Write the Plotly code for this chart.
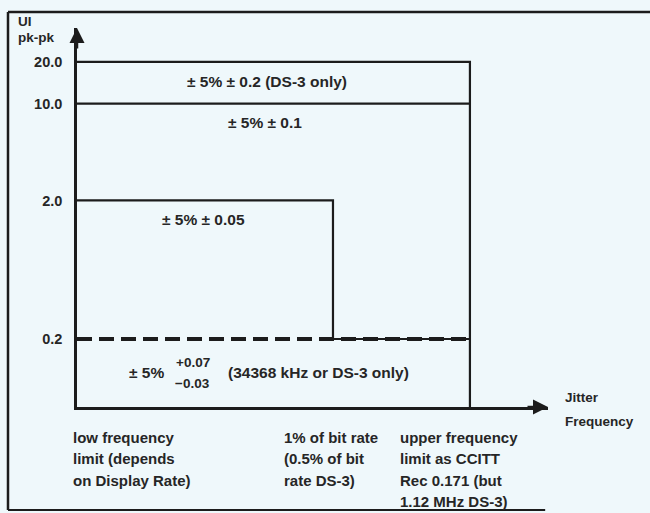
import math
import plotly.graph_objects as go

# ---- data ----
LEVELS = [20.0, 10.0, 2.0, 0.2]                 # UI pk-pk jitter amplitude levels
LEVEL_LABELS = ["20.0", "10.0", "2.0", "0.2"]
FREQ_NAMES = ["low", "mid", "upper"]             # schematic frequency breakpoints
FREQ_VALUES = [0.0, 1.0, 1.535]
LEVEL_END = ["upper", "upper", "mid", "upper"]   # where each amplitude level stops
TOLERANCES = ["± 5% ± 0.2 (DS-3 only)", "± 5% ± 0.1", "± 5% ± 0.05"]
TOL_LOW_MAIN = "± 5%"
TOL_LOW_PLUS = "+0.07"
TOL_LOW_MINUS = "−0.03"
TOL_LOW_NOTE = "(34368 kHz or DS-3 only)"
FREQ_NOTES = [
    ["low frequency", "limit (depends", "on Display Rate)"],
    ["1% of bit rate", "(0.5% of bit", "rate DS-3)"],
    ["upper frequency", "limit as CCITT", "Rec 0.171 (but", "1.12 MHz DS-3)"],
]
Y_TITLE = ["UI", "pk-pk"]
X_TITLE = ["Jitter", "Frequency"]

F = dict(zip(FREQ_NAMES, FREQ_VALUES))
X_MAX = 1.840
Y_MIN, Y_MAX = -1.190, 1.546

BG = "#eff8fb"
INK = "#1c1c1c"
TXT = "#262626"
FONT = "Liberation Sans"

fig = go.Figure()

# upper frequency limit + 20.0 level
fig.add_trace(go.Scatter(
    x=[F["upper"], F["upper"], F["low"]],
    y=[10 ** Y_MIN, LEVELS[0], LEVELS[0]],
    mode="lines", line=dict(color=INK, width=2.2), hoverinfo="skip", showlegend=False))
# 10.0 level
fig.add_trace(go.Scatter(
    x=[F["low"], F[LEVEL_END[1]]], y=[LEVELS[1], LEVELS[1]],
    mode="lines", line=dict(color=INK, width=2.2), hoverinfo="skip", showlegend=False))
# 2.0 level stepping down to 0.2
fig.add_trace(go.Scatter(
    x=[F["low"], F[LEVEL_END[2]], F[LEVEL_END[2]], F["upper"]],
    y=[LEVELS[2], LEVELS[2], LEVELS[3], LEVELS[3]],
    mode="lines", line=dict(color=INK, width=2.2), hoverinfo="skip", showlegend=False))
# 0.2 dashed level
fig.add_trace(go.Scatter(
    x=[F["low"], F[LEVEL_END[3]]], y=[LEVELS[3], LEVELS[3]],
    mode="lines", line=dict(color=INK, width=4, dash="15px,7px"),
    hoverinfo="skip", showlegend=False))

ann = []
tfont = dict(family=FONT, size=15.5, color=TXT)
sfont = dict(family=FONT, size=13.5, color=TXT)
nfont = dict(family=FONT, size=15, color=TXT)

# tolerance labels
tol_x = [0.744, 0.734, 0.494]
tol_shift = [-20, -19, -19]
for i, t in enumerate(TOLERANCES):
    ann.append(dict(x=tol_x[i], y=math.log10(LEVELS[i]), yshift=tol_shift[i],
                    text="<b>" + t + "</b>", showarrow=False, font=tfont))
y02 = math.log10(LEVELS[3])
ann.append(dict(x=0.270, y=y02, yshift=-34, text="<b>" + TOL_LOW_MAIN + "</b>",
                showarrow=False, font=tfont))
ann.append(dict(x=0.453, y=y02, yshift=-24, text="<b>" + TOL_LOW_PLUS + "</b>",
                showarrow=False, font=sfont))
ann.append(dict(x=0.453, y=y02, yshift=-45, text="<b>" + TOL_LOW_MINUS + "</b>",
                showarrow=False, font=sfont))
ann.append(dict(x=0.582, xanchor="left", y=y02, yshift=-34,
                text="<b>" + TOL_LOW_NOTE + "</b>", showarrow=False, font=tfont))

# frequency notes below axis (left-aligned blocks)
note_shift = [-6, -51, -72]
for name, lines, xs in zip(FREQ_NAMES, FREQ_NOTES, note_shift):
    for j, line in enumerate(lines):
        ann.append(dict(x=F[name], xanchor="left", xshift=xs,
                        y=Y_MIN, yanchor="middle", yshift=-30 - 21.5 * j,
                        text="<b>" + line + "</b>", showarrow=False, font=nfont))

# axis titles
for j, line in enumerate(Y_TITLE):
    ann.append(dict(xref="paper", x=0, xanchor="left", xshift=-61,
                    y=Y_MAX, yanchor="middle", yshift=7 - 16 * j,
                    text="<b>" + line + "</b>", showarrow=False,
                    font=dict(family=FONT, size=13.5, color=TXT)))
for j, line in enumerate(X_TITLE):
    ann.append(dict(x=X_MAX, xanchor="left", xshift=15,
                    y=Y_MIN, yanchor="middle", yshift=10 - 24 * j,
                    text="<b>" + line + "</b>", showarrow=False,
                    font=dict(family=FONT, size=13.5, color=TXT)))

# arrowheads on axes
ann.append(dict(x=X_MAX, y=Y_MIN, ax=-22, ay=0, showarrow=True, arrowhead=2,
                arrowsize=1.2, arrowwidth=2.5, arrowcolor=INK, text=""))
ann.append(dict(x=0, y=Y_MAX, ax=0, ay=22, showarrow=True, arrowhead=2,
                arrowsize=1.2, arrowwidth=2.5, arrowcolor=INK, text=""))

fig.update_layout(
    width=650, height=513,
    margin=dict(l=77, r=102, t=28, b=106),
    paper_bgcolor=BG, plot_bgcolor=BG,
    annotations=ann,
    shapes=[
        dict(type="line", xref="paper", yref="paper", x0=-0.1465, x1=1.22,
             y0=1.0422, y1=1.0422, line=dict(color=INK, width=2.5)),
        dict(type="line", xref="paper", yref="paper", x0=-0.1465, x1=-0.1465,
             y0=1.0422, y1=-0.2718, line=dict(color=INK, width=2.5)),
        dict(type="line", xref="paper", yref="paper", x0=-0.1465, x1=0.994,
             y0=-0.2718, y1=-0.2718, line=dict(color=INK, width=2)),
    ],
    xaxis=dict(range=[0, X_MAX], showgrid=False, zeroline=False, showline=True,
               linecolor=INK, linewidth=2.5, showticklabels=False, ticks=""),
    yaxis=dict(type="log", range=[Y_MIN, Y_MAX], showgrid=False, zeroline=False,
               showline=True, linecolor=INK, linewidth=2.5,
               tickvals=LEVELS, ticktext=["<b>" + s + "</b>" for s in LEVEL_LABELS],
               ticks="", ticklabelstandoff=9,
               tickfont=dict(family=FONT, size=14.5, color=TXT)),
)

fig.write_html("out.html", config={"displayModeBar": False},
               post_script="document.body.style.margin='0';"
                           "document.body.style.overflow='hidden';")
